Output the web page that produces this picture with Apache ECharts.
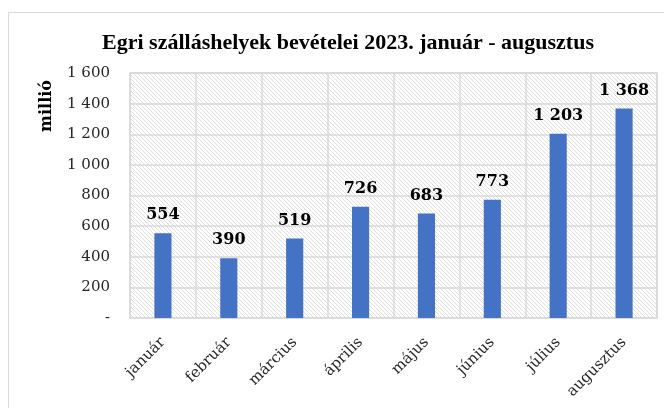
<!DOCTYPE html>
<html>
<head>
<meta charset="utf-8">
<script src="https://cdn.jsdelivr.net/npm/echarts@6/dist/echarts.min.js"></script>
<style>
  html, body { margin: 0; padding: 0; background: #fff; }
  #chart { width: 664px; height: 408px; }
</style>
</head>
<body>
<div id="chart"></div>
<script>
// adatok
const months = ['január', 'február', 'március', 'április', 'május', 'június', 'július', 'augusztus']
const revenue = [554, 390, 519, 726, 683, 773, 1203, 1368]

const yMin = 0
const yMax = 1600
const yStep = 200

// szóközös ezres tagolás, 0 helyett kötőjel
function fmt(v) {
  if (v === 0) return '-'
  return String(v).replace(/\B(?=(\d{3})+(?!\d))/g, ' ')
}

// csíkos háttérminta a rajzterülethez
function hatch() {
  const s = 4
  const c = document.createElement('canvas')
  c.width = s
  c.height = s
  const ctx = c.getContext('2d')
  ctx.fillStyle = '#ffffff'
  ctx.fillRect(0, 0, s, s)
  ctx.strokeStyle = '#e0e0e0'
  ctx.lineWidth = 1
  ctx.beginPath()
  ctx.moveTo(-1, -1); ctx.lineTo(s + 1, s + 1)
  ctx.moveTo(-1, s - 1); ctx.lineTo(1, s + 1)
  ctx.moveTo(s - 1, -1); ctx.lineTo(s + 1, 1)
  ctx.stroke()
  return c
}

const chart = echarts.init(document.getElementById('chart'))

chart.setOption({
  animation: false,
  title: {
    text: 'Egri szálláshelyek bevételei 2023. január - augusztus',
    left: 343,
    textAlign: 'center',
    top: 27,
    textStyle: {
      fontFamily: 'Liberation Serif',
      fontWeight: 'bold',
      fontSize: 22,
      color: '#000'
    }
  },
  graphic: [
    {
      type: 'rect',
      shape: { x: 8.5, y: 12.5, width: 700, height: 450 },
      style: { fill: 'none', stroke: '#d9d9d9', lineWidth: 1 },
      z: -10
    },
    {
      type: 'text',
      x: 47,
      y: 106,
      rotation: Math.PI / 2,
      style: {
        text: 'millió',
        font: 'bold 16px "DejaVu Serif"',
        fill: '#000',
        align: 'center',
        verticalAlign: 'middle'
      }
    }
  ],
  grid: {
    left: 130,
    right: 7,
    top: 73,
    bottom: 90,
    show: true,
    backgroundColor: { image: hatch(), repeat: 'repeat' },
    borderColor: '#d9d9d9',
    borderWidth: 1.5
  },
  xAxis: {
    type: 'category',
    data: months,
    axisLine: { show: false },
    axisTick: { show: false },
    splitLine: { show: true, lineStyle: { color: '#d9d9d9', width: 1.5 } },
    axisLabel: {
      rotate: 45,
      margin: 22,
      fontFamily: 'DejaVu Serif',
      fontSize: 15,
      color: '#262626'
    }
  },
  yAxis: {
    type: 'value',
    min: yMin,
    max: yMax,
    interval: yStep,
    axisLine: { show: false },
    axisTick: { show: false },
    splitLine: { lineStyle: { color: '#d9d9d9', width: 1.5 } },
    axisLabel: {
      formatter: fmt,
      margin: 20,
      fontFamily: 'DejaVu Serif',
      fontSize: 15,
      color: '#262626'
    }
  },
  series: [{
    type: 'bar',
    data: revenue,
    barWidth: '26%',
    itemStyle: { color: '#4472c4' },
    label: {
      show: true,
      position: 'top',
      distance: 10,
      formatter: p => fmt(p.value),
      fontFamily: 'DejaVu Serif',
      fontWeight: 'bold',
      fontSize: 16,
      color: '#000'
    }
  }]
})
</script>
</body>
</html>
